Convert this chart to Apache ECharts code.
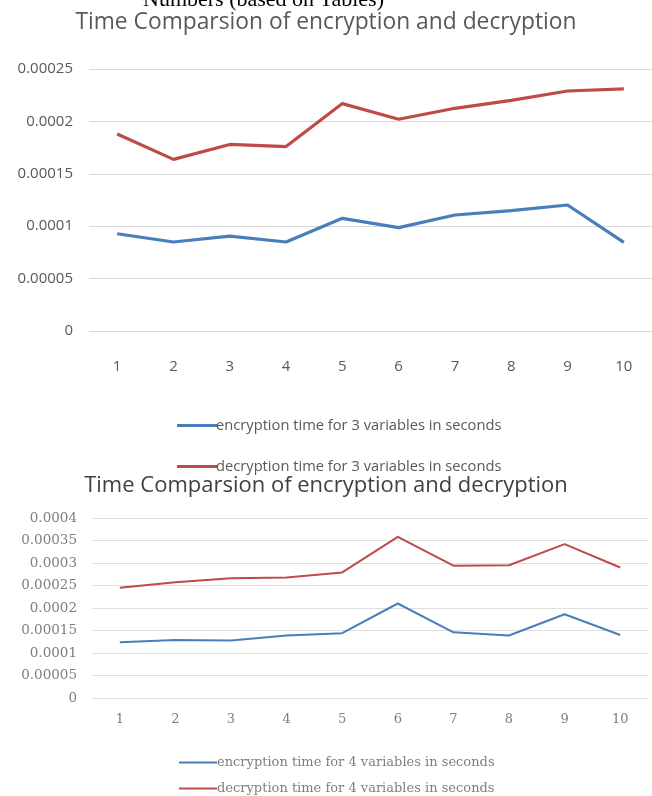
<!DOCTYPE html>
<html>
<head>
<meta charset="utf-8">
<script src="https://cdn.jsdelivr.net/npm/echarts@6/dist/echarts.min.js"></script>
<style>
  html, body { margin: 0; padding: 0; background: #fff; }
  #chart { width: 652px; height: 796px; }
</style>
</head>
<body>
<div id="chart"></div>
<script>
// Run numbers 1..10 on the x axis of both panels
const runs = ['1', '2', '3', '4', '5', '6', '7', '8', '9', '10'];

// Panel 1: 3 variables (seconds)
const enc3 = [0.0000928, 0.0000849, 0.0000906, 0.0000849, 0.0001075, 0.0000986, 0.0001107, 0.0001148, 0.0001202, 0.0000846];
const dec3 = [0.000188, 0.0001638, 0.000178, 0.000176, 0.000217, 0.000202, 0.0002125, 0.00022, 0.000229, 0.000231];

// Panel 2: 4 variables (seconds)
const enc4 = [0.0001237, 0.000129, 0.000128, 0.000139, 0.000144, 0.00021, 0.000146, 0.000139, 0.000186, 0.00014];
const dec4 = [0.000245, 0.000257, 0.000266, 0.000268, 0.000279, 0.000358, 0.000294, 0.000295, 0.000342, 0.00029];

const pageHeading = 'Numbers (based on Tables)';
const title3 = 'Time Comparsion of encryption and decryption';
const title4 = 'Time Comparsion of encryption and decryption';
const enc3Name = 'encryption time for 3 variables in seconds';
const dec3Name = 'decryption time for 3 variables in seconds';
const enc4Name = 'encryption time for 4 variables in seconds';
const dec4Name = 'decryption time for 4 variables in seconds';

const BLUE = '#4a7ebb';
const RED = '#be4b48';
const SANS = '"Open Sans", sans-serif';
const SERIF = '"DejaVu Serif", "Liberation Serif", serif';

function fmt(v) {
  if (v === 0) return '0';
  return String(parseFloat(v.toFixed(6)));
}

// Legend styles for the two panels
const legendTop = {
  orient: 'vertical', left: 172,
  itemWidth: 40, itemHeight: 14,
  icon: 'path://M0,6 L40,6 L40,9 L0,9 Z',
  textStyle: { fontFamily: SANS, fontSize: 14.7, color: '#595959', padding: [0, 0, 0, -6] }
};
const legendBottom = {
  orient: 'vertical', left: 174,
  itemWidth: 38, itemHeight: 12,
  icon: 'path://M0,5 L38,5 L38,7 L0,7 Z',
  textStyle: { fontFamily: SERIF, fontSize: 13, color: '#7f7f7f', padding: [0, 0, 0, -5] }
};

const chart = echarts.init(document.getElementById('chart'), null, { renderer: 'canvas' });

chart.setOption({
  backgroundColor: '#ffffff',
  animation: false,
  graphic: [{
    type: 'text',
    left: 143,
    top: -11,
    style: { text: pageHeading, font: '22px "Liberation Serif", serif', fill: '#000' }
  }],
  title: [
    {
      text: title3, left: 'center', top: 6,
      textStyle: { fontFamily: SANS, fontSize: 22.8, fontWeight: 'normal', color: '#595959' }
    },
    {
      text: title4, left: 'center', top: 470,
      textStyle: { fontFamily: SANS, fontSize: 22, fontWeight: 'normal', color: '#404040' }
    }
  ],
  legend: [
    Object.assign({ data: [enc3Name], top: 413 }, legendTop),
    Object.assign({ data: [dec3Name], top: 454 }, legendTop),
    Object.assign({ data: [enc4Name], top: 751 }, legendBottom),
    Object.assign({ data: [dec4Name], top: 777 }, legendBottom)
  ],
  grid: [
    { left: 89, width: 566, top: 69, height: 262 },
    { left: 92, width: 556, top: 518, height: 180 }
  ],
  xAxis: [
    {
      type: 'category', gridIndex: 0, data: runs, boundaryGap: true,
      axisLine: { show: false }, axisTick: { show: false },
      axisLabel: { margin: 28, fontFamily: SANS, fontSize: 15, color: '#595959' }
    },
    {
      type: 'category', gridIndex: 1, data: runs, boundaryGap: true,
      axisLine: { show: false }, axisTick: { show: false },
      axisLabel: { margin: 15, fontFamily: SERIF, fontSize: 13, color: '#7f7f7f' }
    }
  ],
  yAxis: [
    {
      type: 'value', gridIndex: 0, min: 0, max: 0.00025, interval: 0.00005,
      axisLine: { show: false }, axisTick: { show: false },
      splitLine: { lineStyle: { color: '#d9d9d9', width: 1 } },
      axisLabel: { margin: 16, fontFamily: SANS, fontSize: 15, color: '#595959', formatter: fmt }
    },
    {
      type: 'value', gridIndex: 1, min: 0, max: 0.0004, interval: 0.00005,
      axisLine: { show: false }, axisTick: { show: false },
      splitLine: { lineStyle: { color: '#e0e0e0', width: 1 } },
      axisLabel: { margin: 15, fontFamily: SERIF, fontSize: 13.5, color: '#7f7f7f', formatter: fmt }
    }
  ],
  series: [
    { name: enc3Name, type: 'line', xAxisIndex: 0, yAxisIndex: 0, data: enc3, symbol: 'none',
      lineStyle: { color: BLUE, width: 3.2 }, itemStyle: { color: BLUE } },
    { name: dec3Name, type: 'line', xAxisIndex: 0, yAxisIndex: 0, data: dec3, symbol: 'none',
      lineStyle: { color: RED, width: 3.2 }, itemStyle: { color: RED } },
    { name: enc4Name, type: 'line', xAxisIndex: 1, yAxisIndex: 1, data: enc4, symbol: 'none',
      lineStyle: { color: BLUE, width: 2 }, itemStyle: { color: BLUE } },
    { name: dec4Name, type: 'line', xAxisIndex: 1, yAxisIndex: 1, data: dec4, symbol: 'none',
      lineStyle: { color: RED, width: 2 }, itemStyle: { color: RED } }
  ]
});
</script>
</body>
</html>
